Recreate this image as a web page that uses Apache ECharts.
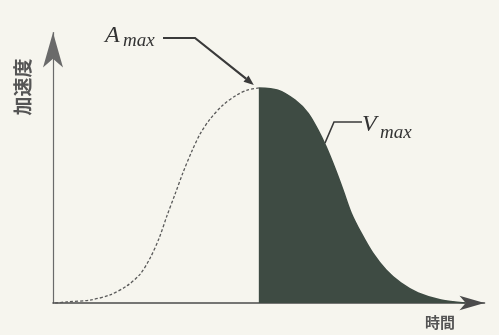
<!DOCTYPE html>
<html>
<head>
<meta charset="utf-8">
<script src="https://cdn.jsdelivr.net/npm/echarts@6/dist/echarts.min.js"></script>
<style>
  html, body { margin: 0; padding: 0; background: #f6f5ee; }
  #chart { width: 499px; height: 335px; }
</style>
</head>
<body>
<div id="chart"></div>
<script>
  // 加速度カーブ（上昇側 / 下降側）
  const riseTime = [0.5, 3.2, 8.6, 13.2, 17.1, 20.2, 22.5, 24.6, 26.4, 28.3, 30.1, 32.2, 34.1, 36.4, 39.4, 42.6, 45.0, 47.7];
  const riseAccel = [0, 0.4, 1.1, 3.0, 6.3, 10.7, 16.6, 24.0, 32.2, 40.3, 48.1, 56.2, 62.5, 68.0, 73.2, 76.9, 78.7, 79.5];
  const fallTime = [47.7, 52.1, 56.1, 59.1, 61.4, 63.3, 65.4, 67.2, 69.1, 71.4, 74.1, 77.2, 80.6, 84.6, 89.9, 95.5];
  const fallAccel = [79.5, 78.7, 75.0, 70.2, 64.0, 57.7, 49.5, 41.8, 33.3, 25.9, 18.5, 12.2, 7.4, 3.7, 1.1, 0];
  const xName = '時間';
  const yName = '加速度';

  const ink = '#4b4b4b';
  const fill = '#3e4b43';

  const pairs = (xs, ys) => xs.map((x, i) => [x, ys[i]]);

  const chart = echarts.init(document.getElementById('chart'));

  chart.setOption({
    backgroundColor: '#f6f5ee',
    animation: false,
    grid: { left: 53, right: 14.5, top: 32.5, bottom: 32 },
    xAxis: {
      type: 'value', min: 0, max: 100,
      axisLine: { lineStyle: { color: ink, width: 1.6 }, symbol: ['none', 'arrow'], symbolSize: [11, 25] },
      axisTick: { show: false }, axisLabel: { show: false }, splitLine: { show: false }
    },
    yAxis: {
      type: 'value', min: 0, max: 100,
      axisLine: { lineStyle: { color: '#6a6a6a', width: 1.2 }, symbol: ['none', 'arrow'], symbolSize: [15, 35] },
      axisTick: { show: false }, axisLabel: { show: false }, splitLine: { show: false }
    },
    series: [
      {
        type: 'line', smooth: 0.3, showSymbol: false,
        data: pairs(riseTime, riseAccel),
        lineStyle: { color: '#5a5a5a', width: 1.3, type: [3, 2] }
      },
      {
        type: 'line', smooth: 0.3, showSymbol: false,
        data: pairs(fallTime, fallAccel),
        lineStyle: { color: fill, width: 1.5 },
        areaStyle: { color: fill, opacity: 1 }
      }
    ]
  });

  // 注記（ピーク位置はデータから求める）
  const peak = chart.convertToPixel({ gridIndex: 0 }, [riseTime[riseTime.length - 1], riseAccel[riseAccel.length - 1]]);
  const tip = [peak[0] - 5, peak[1] - 3];
  const knee = [195, 38];
  const dx = tip[0] - knee[0], dy = tip[1] - knee[1];
  const len = Math.sqrt(dx * dx + dy * dy);
  const ux = dx / len, uy = dy / len;
  const hb = [tip[0] - ux * 10, tip[1] - uy * 10];

  const serif = '"Liberation Serif", "DejaVu Serif", serif';

  chart.setOption({
    graphic: [
      { type: 'text', x: 105, y: 48, style: { text: 'A', font: 'italic 24px ' + serif, fill: '#333', verticalAlign: 'bottom' } },
      { type: 'text', x: 123, y: 50, style: { text: 'max', font: 'italic 19px ' + serif, fill: '#333', verticalAlign: 'bottom' } },
      { type: 'polyline', shape: { points: [[163, 38], knee, hb] }, style: { stroke: '#3a3a3a', lineWidth: 2.2, fill: null } },
      {
        type: 'polygon',
        shape: { points: [tip, [hb[0] - uy * 4, hb[1] + ux * 4], [hb[0] + uy * 4, hb[1] - ux * 4]] },
        style: { fill: '#3a3a3a' }
      },
      { type: 'text', x: 362, y: 137, style: { text: 'V', font: 'italic 24px ' + serif, fill: '#333', verticalAlign: 'bottom' } },
      { type: 'text', x: 380, y: 142, style: { text: 'max', font: 'italic 19px ' + serif, fill: '#333', verticalAlign: 'bottom' } },
      { type: 'polyline', shape: { points: [[362, 122], [334, 122], [325, 143]] }, style: { stroke: '#3a3a3a', lineWidth: 1.6, fill: null } },
      { type: 'line', shape: { x1: 325, y1: 143, x2: 299, y2: 207 }, style: { stroke: '#8d978f', lineWidth: 1.2 } },
      {
        type: 'text', x: 23, y: 87, rotation: Math.PI / 2,
        style: { text: yName, font: 'bold 19px "Noto Sans CJK JP"', fill: '#555', align: 'center', verticalAlign: 'middle' }
      },
      {
        type: 'text', x: 440, y: 322,
        style: { text: xName, font: 'bold 15px "Noto Sans CJK JP"', fill: '#555', align: 'center', verticalAlign: 'middle' }
      }
    ]
  });
</script>
</body>
</html>
